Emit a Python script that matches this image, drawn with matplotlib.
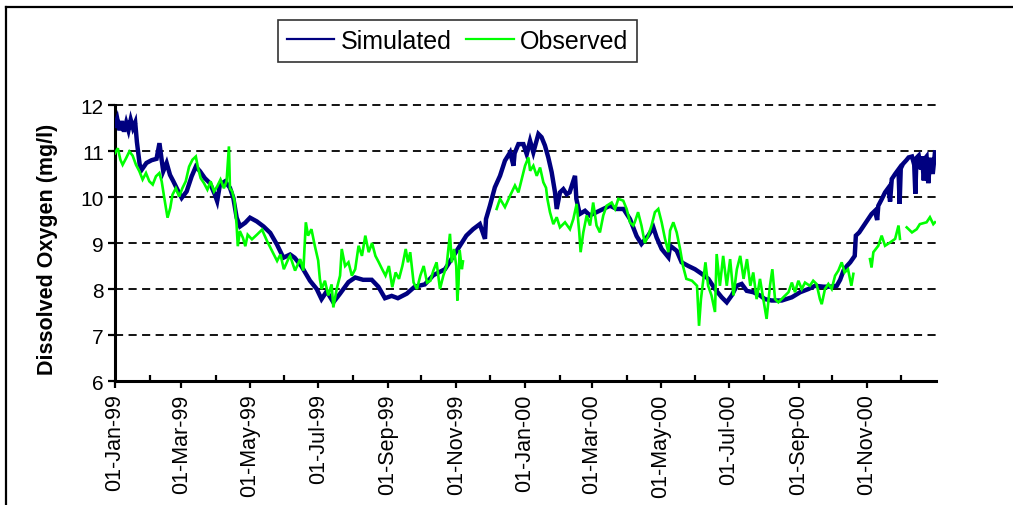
"""
Dissolved oxygen: simulated vs observed, 1999-2000
"""
import numpy as np
import matplotlib
matplotlib.use('Agg')
import matplotlib.pyplot as plt
import matplotlib.dates as mdates
from matplotlib.lines import Line2D

plt.rcParams['font.family'] = ['Liberation Sans', 'DejaVu Sans']

START = np.datetime64('1999-01-01')

# simulated DO, day offset from 01-Jan-99 and mg/l
sim_day = [0, 2, 4, 6, 8, 10, 12, 14, 16, 18, 19.5, 22, 24, 28, 32.6, 37, 39.6,
           41.6, 43, 46, 49, 52, 56.4, 59.4, 63.8, 68.3, 72, 75.7, 80, 84.6, 89,
           91, 93.5, 98, 102.4, 105.4, 108.4, 111.4, 116, 120.3, 126.3, 132.3,
           138.3, 144.2, 150, 156, 160, 166, 173.7, 179.7, 184, 188.6, 194.5,
           200.5, 208, 214, 221, 228.7, 234.6, 240.5, 246.5, 252, 260, 267, 276,
           283.6, 294, 301, 307.3, 313, 319, 325, 329.6, 330.5, 334, 338.4, 343,
           347.4, 352, 355, 356, 359.4, 363.8, 366.8, 369.8, 372.7, 377.2, 380,
           383, 386, 389, 392, 393.5, 396.4, 399.4, 402.4, 405, 409.8, 411, 414,
           418.7, 423, 429, 435, 441, 447, 453, 458.8, 464.7, 469, 475, 479.6,
           482.5, 487, 493, 494.6, 500.4, 504.8, 510.8, 516.7, 522.7, 528.6,
           534.5, 540.5, 545, 549.4, 553.9, 558.3, 562.8, 568.7, 574.6, 579, 585,
           594, 603, 610.4, 617.8, 623.7, 631, 637, 643, 646, 649, 652, 655, 659,
           660, 663, 668, 674, 677, 679, 680, 683, 686, 689, 690.5, 692, 695,
           698, 699, 700, 702, 705, 707, 710, 712, 713, 714, 716, 718, 719,
           720.5, 722, 723, 724.5, 726, 727, 728.5, 730.5]
sim_val = [11.55, 11.7, 11.45, 11.65, 11.42, 11.62, 11.45, 11.68, 11.5, 11.62,
           11.2, 10.7, 10.6, 10.74, 10.8, 10.83, 11.17, 10.8, 10.56, 10.74,
           10.48, 10.34, 10.12, 9.98, 10.12, 10.45, 10.66, 10.56, 10.41, 10.3,
           10.05, 9.91, 10.27, 10.34, 10.2, 9.98, 9.55, 9.36, 9.44, 9.55, 9.47,
           9.36, 9.22, 8.97, 8.68, 8.75, 8.68, 8.5, 8.18, 8.0, 7.78, 7.95, 7.71,
           7.9, 8.15, 8.25, 8.2, 8.2, 8.05, 7.8, 7.85, 7.8, 7.9, 8.05, 8.1, 8.3,
           8.43, 8.7, 8.94, 9.16, 9.3, 9.41, 9.09, 9.52, 9.81, 10.21, 10.46,
           10.79, 10.97, 10.68, 10.95, 11.15, 11.15, 10.93, 11.22, 10.97, 11.37,
           11.3, 11.12, 10.86, 10.54, 10.1, 9.74, 10.1, 10.17, 10.06, 10.1,
           10.46, 9.96, 9.63, 9.7, 9.6, 9.67, 9.74, 9.81, 9.74, 9.74, 9.52, 9.15,
           8.98, 9.16, 9.34, 9.12, 8.87, 8.69, 8.94, 8.83, 8.58, 8.5, 8.43, 8.33,
           8.22, 8.0, 7.82, 7.71, 7.86, 8.07, 8.11, 7.96, 7.93, 7.86, 7.78, 7.75,
           7.75, 7.82, 7.93, 8.0, 8.07, 8.05, 8.05, 8.07, 8.2, 8.4, 8.5, 8.58,
           8.72, 9.16, 9.23, 9.41, 9.63, 9.7, 9.5, 9.81, 9.95, 10.1, 10.2, 9.9,
           10.39, 10.5, 10.6, 9.85, 10.62, 10.72, 10.8, 10.86, 10.88, 10.7,
           10.07, 10.85, 10.9, 10.6, 10.88, 10.36, 10.85, 10.88, 10.3, 10.75,
           10.85, 10.5, 10.97]

# observed DO (nan = no record)
obs_day = [0, 2.5, 4.8, 6.8, 9.8, 12.8, 15.7, 18.7, 21.7, 24.6, 27.6, 30.6,
           33.6, 36.5, 39.5, 41.6, 43.9, 46.8, 49.2, 51.2, 54.2, 57.2, 60, 63,
           66, 69, 72, 74, 76.3, 79.3, 82.3, 85.2, 88.2, 91, 94, 97, 99.4,
           101.5, 102.4, 104.4, 106.5, 108.3, 109.4, 111.2, 114, 116.1, 118.2,
           122, 126.4, 131, 135.5, 140, 144.4, 147.4, 150.4, 154.9, 156, 160.4,
           165, 167.8, 170, 172, 175, 178, 181, 182.5, 184, 187, 190, 193, 194.5,
           197.5, 200.5, 202, 205, 208, 211, 214, 217, 220, 223, 226, 229, 232,
           235, 238, 241, 244, 247, 250, 253, 256, 259, 261, 263, 266, 269, 272,
           275, 278, 281, 283.6, 286.5, 289.5, 292.5, 295.4, 298.4, 300, 302,
           304, 305, 306, 307, 309, 310, 311,
           340, 343, 347.4, 352, 356.3, 359.4, 362.4, 365.3, 368.3, 369.8,
           372.7, 375.7, 378.7, 381.6, 384, 385.2, 387.5, 390.5, 393.5, 396.4,
           400.9, 405.3, 408.3, 411.3, 413.6, 414.8, 417.2, 420.2, 423.2, 426,
           429, 432, 435, 438, 442.5, 445.5, 448.4, 452.8, 455.8, 458.8, 461.7,
           463, 466, 469, 472, 475, 478, 481, 484, 487, 490, 493, 494.5, 497.4,
           500.4, 503.4, 506, 509, 514, 518.5, 520.3, 522, 526, 528.4, 531.4,
           534.5, 536, 538.9, 541.8, 545, 548, 551, 554, 557, 560, 563, 566,
           568.6, 571.6, 574.6, 577.6, 580.5, 583.5, 585.6, 588, 591, 595.4, 600,
           603, 605.8, 608.8, 611.8, 614.7, 619, 622, 625, 628, 629.6, 632.5,
           635.5, 638.5, 641.5, 644.4, 647.4, 650, 653, 656, 657.8, 665,
           672.6, 674, 675.6, 680, 683, 686, 690.4, 695, 698, 699.3, 702,
           705.3, 710, 714.2, 717, 723, 726, 729, 730.5]
obs_val = [10.95, 11.06, 10.81, 10.7, 10.84, 10.99, 10.9, 10.7, 10.56, 10.38,
           10.52, 10.34, 10.27, 10.45, 10.52, 10.34, 9.98, 9.55, 9.76, 10.05,
           10.19, 10.01, 10.19, 10.34, 10.66, 10.81, 10.88, 10.63, 10.41, 10.3,
           10.16, 10.34, 10.12, 10.23, 10.38, 10.19, 10.34, 11.1, 10.19, 10.12,
           9.91, 9.4, 8.93, 9.26, 9.11, 8.93, 9.18, 9.08, 9.18, 9.29, 9.04, 8.82,
           8.61, 8.75, 8.43, 8.68, 8.72, 8.4, 8.65, 8.4, 9.45, 9.16, 9.3, 8.94,
           8.62, 8.22, 8.0, 8.18, 7.86, 8.1, 7.6, 8.0, 8.29, 8.87, 8.5, 8.58,
           8.29, 8.43, 8.94, 8.72, 9.16, 8.8, 9.0, 8.72, 8.58, 8.43, 8.29, 8.5,
           8.04, 8.36, 8.22, 8.5, 8.87, 8.58, 8.8, 8.14, 8.0, 8.29, 8.5, 8.14,
           8.18, 8.4, 8.58, 8.0, 8.29, 8.5, 9.2, 8.58, 8.87, 8.5, 7.75, 8.1,
           8.85, 8.43, 8.6, np.nan,
           9.74, 9.96, 9.78, 10.03, 10.25, 10.1, 10.4, 10.68, 10.86, 10.57,
           10.68, 10.46, 10.64, 10.32, 10.2, 9.96, 9.67, 9.41, 9.56, 9.34, 9.45,
           9.3, 9.52, 9.85, 9.23, 8.8, 9.23, 9.6, 9.38, 9.88, 9.38, 9.23, 9.6,
           9.81, 9.88, 9.74, 9.96, 9.92, 9.74, 9.45, 9.38,
           9.45, 9.67, 9.38, 9.0, 9.16, 9.38, 9.67, 9.74, 9.45, 9.09, 8.8, 9.27,
           9.45, 9.23, 8.87, 8.5, 8.22, 8.18, 8.07, 7.2, 7.78, 8.58, 8.07, 7.86,
           7.5, 8.76, 8.07, 8.72, 8.07, 8.65, 7.86, 8.43, 8.72, 8.22, 8.65, 8.07,
           8.36, 7.78, 8.22, 7.78, 7.35, 8.07, 8.43, 7.78, 7.71, 7.82, 7.93,
           8.14, 7.93, 8.18, 8.0, 8.14, 8.07, 8.18, 8.11, 7.78, 7.67, 8.0, 8.11,
           8.0, 8.29, 8.4, 8.58, 8.36, 8.43, 8.07, 8.33, np.nan,
           8.65, 8.47, 8.8, 8.94, 9.16, 8.94, 9.01, 9.09, 9.38, 9.09, np.nan,
           9.34, 9.23, 9.3, 9.41, 9.45, 9.56, 9.41, 9.45]


def to_dates(days):
    mins = np.round(np.asarray(days) * 1440).astype('timedelta64[m]')
    return START + mins


W, H = 1013, 506
fig = plt.figure(figsize=(W / 100, H / 100), dpi=100)
ax = fig.add_axes([115 / W, 1 - 382 / H, 820.5 / W, 276 / H])

# dashed horizontal grid
for v in [7, 8, 9, 10, 11, 12]:
    ax.axhline(v, color='black', lw=1.3, ls=(0, (4.5, 3)), clip_on=False, zorder=1)

ax.plot(to_dates(sim_day), sim_val, color='#000080', lw=3.2, label='Simulated',
        zorder=3, solid_joinstyle='miter')
ax.plot(to_dates(obs_day), obs_val, color='#00FF00', lw=1.9, label='Observed',
        zorder=4, solid_joinstyle='miter')

ax.set_ylim(6, 12)
ax.set_xlim(np.datetime64('1999-01-01'), np.datetime64('2000-12-31T23:00'))
ax.set_yticks([6, 7, 8, 9, 10, 11, 12])

ax.xaxis.set_major_locator(mdates.MonthLocator(bymonth=[1, 3, 5, 7, 9, 11]))
ax.xaxis.set_minor_locator(mdates.MonthLocator(bymonth=[2, 4, 6, 8, 10, 12]))
ax.xaxis.set_major_formatter(mdates.DateFormatter('%d-%b-%y'))

for s in ['top', 'right']:
    ax.spines[s].set_visible(False)
for s in ['left', 'bottom']:
    ax.spines[s].set_linewidth(2.2)

ax.tick_params(axis='y', which='major', direction='out', length=5, width=1.6,
               labelsize=15, pad=3)
ax.tick_params(axis='x', which='major', direction='out', length=5, width=1.6,
               labelsize=15.5, pad=4, labelrotation=90)
ax.tick_params(axis='x', which='minor', direction='in', length=4, width=1.6)

fig.text(48 / W, 1 - 249 / H, 'Dissolved Oxygen (mg/l)', rotation=90,
         ha='center', va='center', fontsize=15.5, fontweight='bold')

leg = fig.legend(loc='upper left', bbox_to_anchor=(278 / W, 1 - 21 / H), ncol=2,
                 fontsize=18, frameon=True, fancybox=False, borderpad=0.35,
                 handlelength=1.9, handletextpad=0.25, columnspacing=0.6,
                 borderaxespad=0)
leg.get_frame().set_edgecolor('black')
leg.get_frame().set_linewidth(1.2)
for h in leg.get_lines():
    h.set_linewidth(1.6)

# outer frame (left and top edges)
fig.add_artist(Line2D([6 / W, 6 / W], [0, 1 - 7.5 / H], transform=fig.transFigure,
                      color='black', lw=1.6))
fig.add_artist(Line2D([6 / W, 1], [1 - 7.5 / H, 1 - 7.5 / H], transform=fig.transFigure,
                      color='black', lw=1.6))

fig.savefig('out.png', dpi=100)
